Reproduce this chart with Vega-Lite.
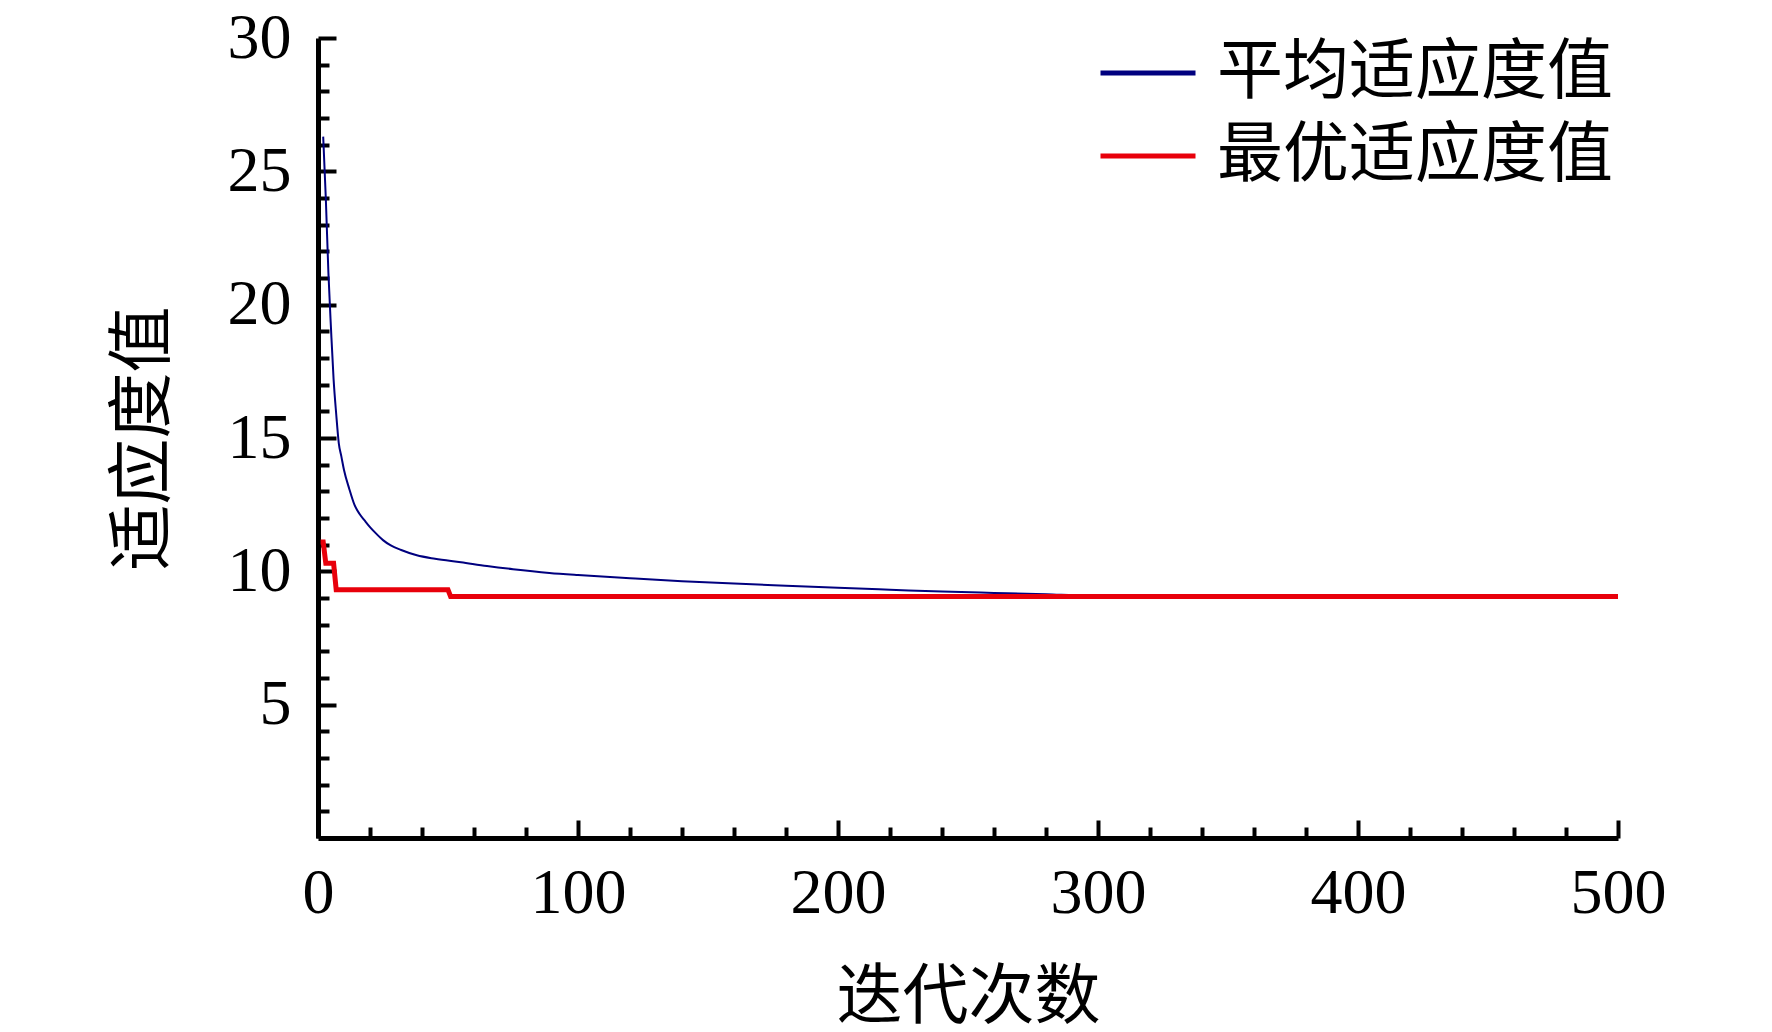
{
  "$schema": "https://vega.github.io/schema/vega-lite/v6.json",
  "description": "Fitness value against iteration count: average and best fitness.",
  "width": 1300,
  "height": 800,
  "autosize": {"type": "none"},
  "padding": {"left": 318, "top": 38, "right": 154, "bottom": 194},
  "background": "white",
  "config": {
    "view": {"stroke": null},
    "axis": {
      "grid": false,
      "domainColor": "black",
      "domainWidth": 5,
      "tickColor": "black",
      "tickWidth": 4,
      "labelFont": "Liberation Serif",
      "labelFontSize": 64,
      "labelColor": "black",
      "labelFlush": false,
      "titleFont": "Liberation Serif, Noto Sans CJK SC",
      "titleFontSize": 66,
      "titleFontWeight": "normal",
      "titleColor": "black"
    }
  },
  "data": {
    "values": [
      {"iter": 2, "value": 26.3, "series": "平均适应度值"},
      {"iter": 3, "value": 24.0, "series": "平均适应度值"},
      {"iter": 4, "value": 21.2, "series": "平均适应度值"},
      {"iter": 5, "value": 19.1, "series": "平均适应度值"},
      {"iter": 6, "value": 17.2, "series": "平均适应度值"},
      {"iter": 7, "value": 15.9, "series": "平均适应度值"},
      {"iter": 8, "value": 14.8, "series": "平均适应度值"},
      {"iter": 9, "value": 14.3, "series": "平均适应度值"},
      {"iter": 10, "value": 13.8, "series": "平均适应度值"},
      {"iter": 12, "value": 13.1, "series": "平均适应度值"},
      {"iter": 14, "value": 12.5, "series": "平均适应度值"},
      {"iter": 16, "value": 12.15, "series": "平均适应度值"},
      {"iter": 18, "value": 11.9, "series": "平均适应度值"},
      {"iter": 20, "value": 11.66, "series": "平均适应度值"},
      {"iter": 22, "value": 11.45, "series": "平均适应度值"},
      {"iter": 25, "value": 11.17, "series": "平均适应度值"},
      {"iter": 28, "value": 10.97, "series": "平均适应度值"},
      {"iter": 32, "value": 10.8, "series": "平均适应度值"},
      {"iter": 38, "value": 10.6, "series": "平均适应度值"},
      {"iter": 45, "value": 10.47, "series": "平均适应度值"},
      {"iter": 55, "value": 10.34, "series": "平均适应度值"},
      {"iter": 65, "value": 10.2, "series": "平均适应度值"},
      {"iter": 75, "value": 10.08, "series": "平均适应度值"},
      {"iter": 89, "value": 9.94, "series": "平均适应度值"},
      {"iter": 100, "value": 9.86, "series": "平均适应度值"},
      {"iter": 120, "value": 9.74, "series": "平均适应度值"},
      {"iter": 140, "value": 9.63, "series": "平均适应度值"},
      {"iter": 160, "value": 9.54, "series": "平均适应度值"},
      {"iter": 180, "value": 9.46, "series": "平均适应度值"},
      {"iter": 200, "value": 9.38, "series": "平均适应度值"},
      {"iter": 220, "value": 9.31, "series": "平均适应度值"},
      {"iter": 240, "value": 9.24, "series": "平均适应度值"},
      {"iter": 260, "value": 9.19, "series": "平均适应度值"},
      {"iter": 280, "value": 9.14, "series": "平均适应度值"},
      {"iter": 295, "value": 9.09, "series": "平均适应度值"},
      {"iter": 320, "value": 9.07, "series": "平均适应度值"},
      {"iter": 360, "value": 9.06, "series": "平均适应度值"},
      {"iter": 400, "value": 9.06, "series": "平均适应度值"},
      {"iter": 450, "value": 9.06, "series": "平均适应度值"},
      {"iter": 500, "value": 9.06, "series": "平均适应度值"},
      {"iter": 1, "value": 11.1, "series": "最优适应度值"},
      {"iter": 2, "value": 11.1, "series": "最优适应度值"},
      {"iter": 3, "value": 10.3, "series": "最优适应度值"},
      {"iter": 6, "value": 10.3, "series": "最优适应度值"},
      {"iter": 7, "value": 9.31, "series": "最优适应度值"},
      {"iter": 50, "value": 9.31, "series": "最优适应度值"},
      {"iter": 51, "value": 9.06, "series": "最优适应度值"},
      {"iter": 500, "value": 9.06, "series": "最优适应度值"}
    ]
  },
  "encoding": {
    "x": {"field": "iter", "type": "quantitative", "scale": {"domain": [0, 500], "nice": false}},
    "y": {"field": "value", "type": "quantitative", "scale": {"domain": [0, 30], "nice": false}}
  },
  "layer": [
    {
      "mark": {"type": "line", "opacity": 0},
      "encoding": {
        "x": {
          "field": "iter",
          "type": "quantitative",
          "axis": {
            "orient": "bottom",
            "values": [20, 40, 60, 80, 120, 140, 160, 180, 220, 240, 260, 280, 320, 340, 360, 380, 420, 440, 460, 480],
            "tickSize": -11,
            "labels": false,
            "domain": false,
            "title": null
          }
        },
        "y": {
          "field": "value",
          "type": "quantitative",
          "axis": {
            "orient": "left",
            "values": [1, 2, 3, 4, 6, 7, 8, 9, 11, 12, 13, 14, 16, 17, 18, 19, 21, 22, 23, 24, 26, 27, 28, 29],
            "tickSize": -11,
            "labels": false,
            "domain": false,
            "title": null
          }
        },
        "detail": {"field": "series"}
      }
    },
    {
      "transform": [{"filter": "datum.series == '平均适应度值'"}],
      "mark": {"type": "line", "interpolate": "monotone", "strokeWidth": 2},
      "encoding": {
        "x": {
          "field": "iter",
          "type": "quantitative",
          "axis": {
            "orient": "bottom",
            "values": [0, 100, 200, 300, 400, 500],
            "tickSize": -18,
            "labelPadding": 41,
            "title": "迭代次数",
            "titlePadding": 40
          }
        },
        "y": {
          "field": "value",
          "type": "quantitative",
          "axis": {
            "orient": "left",
            "values": [5, 10, 15, 20, 25, 30],
            "tickSize": -18,
            "labelPadding": 45,
            "title": "适应度值",
            "titlePadding": 50
          }
        },
        "color": {
          "field": "series",
          "type": "nominal",
          "scale": {"domain": ["平均适应度值", "最优适应度值"], "range": ["#00007f", "#e8000b"]},
          "legend": {
            "title": null,
            "orient": "none",
            "legendX": 780,
            "legendY": -15,
            "symbolType": "stroke",
            "symbolSize": 9025,
            "symbolStrokeWidth": 5,
            "labelFont": "Liberation Serif, Noto Sans CJK SC",
            "labelFontSize": 66,
            "labelColor": "black",
            "labelOffset": 19,
            "labelLimit": 0,
            "rowPadding": -15
          }
        }
      }
    },
    {
      "transform": [{"filter": "datum.series == '最优适应度值'"}],
      "mark": {"type": "line", "strokeWidth": 5},
      "encoding": {
        "x": {"field": "iter", "type": "quantitative", "axis": null},
        "y": {"field": "value", "type": "quantitative", "axis": null},
        "color": {"field": "series", "type": "nominal"}
      }
    }
  ],
  "resolve": {"axis": {"x": "independent", "y": "independent"}}
}
